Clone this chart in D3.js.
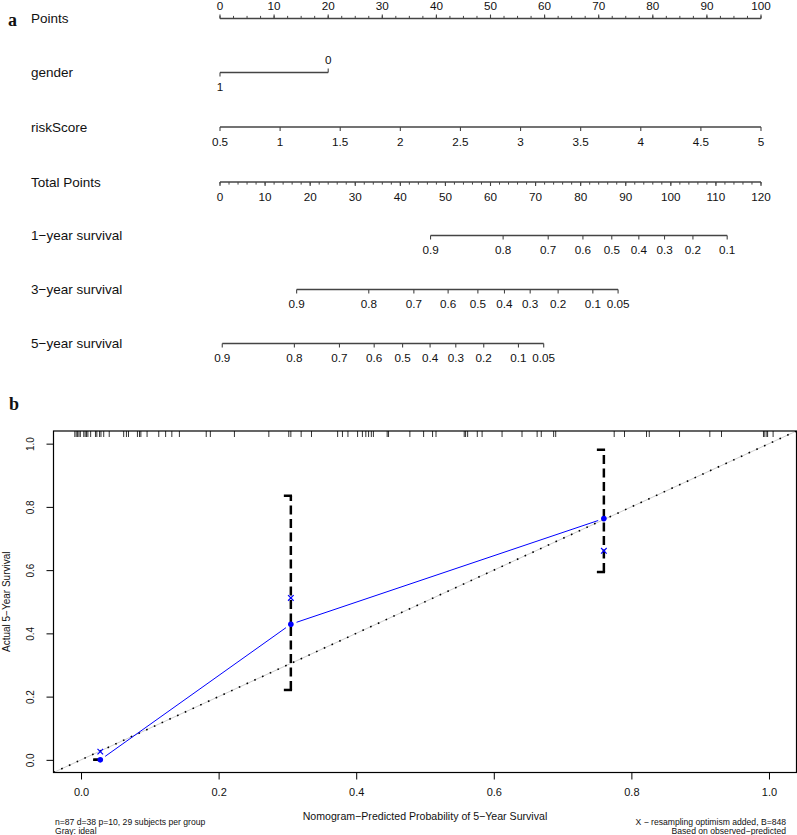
<!doctype html>
<head>
  <meta charset="utf-8">
  <title>Nomogram and calibration</title>
  <script src="https://cdn.jsdelivr.net/npm/d3@7"></script>
  <style>
    body { margin: 0; background: #fff; }
    text { font-family: "Liberation Sans", Arial, sans-serif; fill: #111; }
    .panel { font-family: "Liberation Serif", "Times New Roman", serif; font-weight: bold; font-size: 18px; }
  </style>
</head>
<body>
<script>
// ---- nomogram (a) ----
var pointsTicks = [0, 10, 20, 30, 40, 50, 60, 70, 80, 90, 100];
var genderLevels = ["1", "0"];
var genderPoints = [0, 20];
var riskTicks = [0.5, 1, 1.5, 2, 2.5, 3, 3.5, 4, 4.5, 5];
var totalTicks = [0, 10, 20, 30, 40, 50, 60, 70, 80, 90, 100, 110, 120];

var surv1Labels = ["0.9", "0.8", "0.7", "0.6", "0.5", "0.4", "0.3", "0.2", "0.1"];
var surv1Points = [46.7, 62.8, 72.8, 80.5, 86.9, 92.9, 98.6, 104.9, 112.5];
var surv3Labels = ["0.9", "0.8", "0.7", "0.6", "0.5", "0.4", "0.3", "0.2", "0.1", "0.05"];
var surv3Points = [17.0, 33.0, 43.0, 50.6, 57.2, 63.1, 68.8, 75.0, 82.7, 88.3];
var surv5Labels = ["0.9", "0.8", "0.7", "0.6", "0.5", "0.4", "0.3", "0.2", "0.1", "0.05"];
var surv5Points = [0.5, 16.5, 26.5, 34.2, 40.5, 46.6, 52.3, 58.5, 66.2, 71.8];

// ---- calibration (b) ----
var calPred = [0.028, 0.305, 0.760];
var calObs = [0.0, 0.429, 0.763];
var calCorrected = [0.026, 0.512, 0.661];
var calLower = [0.0, 0.221, 0.594];
var calUpper = [0.0, 0.835, 0.981];
var rugPred = [-0.009, -0.007, -0.005, -0.003, -0.001, 0.004, 0.006, 0.008, 0.010, 0.014,
  0.021, 0.023, 0.027, 0.029, 0.033, 0.041, 0.062, 0.066, 0.069, 0.082, 0.085, 0.087,
  0.096, 0.113, 0.123, 0.132, 0.143, 0.182, 0.188, 0.223, 0.273, 0.302, 0.305, 0.320,
  0.335, 0.373, 0.380, 0.388, 0.402, 0.409, 0.414, 0.418, 0.422, 0.425, 0.445, 0.447,
  0.478, 0.498, 0.511, 0.516, 0.557, 0.559, 0.562, 0.576, 0.583, 0.612, 0.641, 0.663,
  0.669, 0.687, 0.690, 0.775, 0.790, 0.822, 0.826, 0.870, 0.914, 0.931, 0.992, 0.994,
  0.997, 0.998, 1.006];

var W = 797, H = 835;
var svg = d3.select("body").append("svg").attr("width", W).attr("height", H);

var lineCol = "#444";
var xPts = d3.scaleLinear().domain([0, 100]).range([220, 761]);
var xTot = d3.scaleLinear().domain([0, 120]).range([220, 761]);
var xRisk = d3.scaleLinear().domain([0.5, 5]).range([220, 761]);

svg.append("text").attr("class", "panel").attr("x", 8).attr("y", 26).text("a");

// draw one nomogram row: xs pixel positions, labels, dir -1 = up, 1 = down
function row(name, yLine, xs, labels, dirs, minorXs) {
  var g = svg.append("g");
  g.append("text").attr("x", 31).attr("y", yLine + 4.5)
    .style("font-size", "13.5px").text(name);
  g.append("line")
    .attr("x1", d3.min(xs)).attr("x2", d3.max(xs))
    .attr("y1", yLine).attr("y2", yLine)
    .attr("stroke", lineCol).attr("stroke-width", 1.3);
  if (minorXs) {
    g.selectAll(".mn").data(minorXs).enter().append("line")
      .attr("x1", function(d){ return d; }).attr("x2", function(d){ return d; })
      .attr("y1", yLine).attr("y2", yLine + dirs[0] * 2.6)
      .attr("stroke", lineCol).attr("stroke-width", 1);
  }
  xs.forEach(function(x, i) {
    var dir = dirs[i % dirs.length];
    g.append("line").attr("x1", x).attr("x2", x)
      .attr("y1", yLine).attr("y2", yLine + dir * 4)
      .attr("stroke", lineCol).attr("stroke-width", 1.1);
    g.append("text").attr("x", x)
      .attr("y", dir < 0 ? yLine - 8.5 : yLine + 18.5)
      .attr("text-anchor", "middle").style("font-size", "11.7px")
      .text(labels[i]);
  });
}

row("Points", 18.5, pointsTicks.map(xPts), pointsTicks, [-1],
  d3.range(0, 100.1, 2.5).map(xPts));
row("gender", 72.5, genderPoints.map(xPts), genderLevels, [1, -1]);
row("riskScore", 127, riskTicks.map(xRisk), riskTicks, [1]);
row("Total Points", 182, totalTicks.map(xTot), totalTicks, [1],
  d3.range(0, 120.1, 2).map(xTot));
row("1\u2212year survival", 235.5, surv1Points.map(xTot), surv1Labels, [1]);
row("3\u2212year survival", 289.5, surv3Points.map(xTot), surv3Labels, [1]);
row("5\u2212year survival", 343.5, surv5Points.map(xTot), surv5Labels, [1]);

// ---- panel b ----
svg.append("text").attr("class", "panel").attr("x", 9).attr("y", 410).text("b");

var plotL = 53.5, plotR = 796.5, plotT = 431, plotB = 772.5;
var x = d3.scaleLinear().domain([-0.04, 1.04]).range([plotL, plotR]);
var y = d3.scaleLinear().domain([-0.04, 1.04]).range([plotB, plotT]);

svg.append("clipPath").attr("id", "plotclip").append("rect")
  .attr("x", plotL).attr("y", plotT).attr("width", plotR - plotL).attr("height", plotB - plotT);

var plot = svg.append("g").attr("clip-path", "url(#plotclip)");

// ideal line: gray under black dots
plot.append("line")
  .attr("x1", x(-0.04)).attr("y1", y(-0.04)).attr("x2", x(1.04)).attr("y2", y(1.04))
  .attr("stroke", "#cfcfcf").attr("stroke-width", 1);
plot.append("line")
  .attr("x1", x(-0.04)).attr("y1", y(-0.04)).attr("x2", x(1.04)).attr("y2", y(1.04))
  .attr("stroke", "#000").attr("stroke-width", 1.6)
  .attr("stroke-dasharray", "1.6,6.9");

// rug of predicted values
plot.selectAll(".rug").data(rugPred).enter().append("line")
  .attr("x1", function(d){ return x(d); }).attr("x2", function(d){ return x(d); })
  .attr("y1", plotT).attr("y2", plotT + 6)
  .attr("stroke", "#333").attr("stroke-width", 1);

// error bars
calPred.forEach(function(p, i) {
  var cx = x(p);
  if (calUpper[i] > calLower[i]) {
    plot.append("line").attr("x1", cx).attr("x2", cx)
      .attr("y1", y(calLower[i])).attr("y2", y(calUpper[i]))
      .attr("stroke", "#000").attr("stroke-width", 2.5)
      .attr("stroke-dasharray", "9,4.5");
  }
  [calLower[i], calUpper[i]].forEach(function(v) {
    plot.append("line").attr("x1", cx - 7).attr("x2", cx + 1.2)
      .attr("y1", y(v)).attr("y2", y(v))
      .attr("stroke", "#000").attr("stroke-width", 2.5);
  });
});

// observed line with gaps around points
for (var i = 0; i < calPred.length - 1; i++) {
  var x1 = x(calPred[i]), y1 = y(calObs[i]), x2 = x(calPred[i + 1]), y2 = y(calObs[i + 1]);
  var len = Math.hypot(x2 - x1, y2 - y1), ux = (x2 - x1) / len, uy = (y2 - y1) / len, gap = 6;
  plot.append("line")
    .attr("x1", x1 + ux * gap).attr("y1", y1 + uy * gap)
    .attr("x2", x2 - ux * gap).attr("y2", y2 - uy * gap)
    .attr("stroke", "#0000ff").attr("stroke-width", 1);
}
plot.selectAll(".obs").data(calPred).enter().append("circle")
  .attr("cx", function(d){ return x(d); })
  .attr("cy", function(d, i){ return y(calObs[i]); })
  .attr("r", 2.8).attr("fill", "#0000ff");

// bias-corrected x marks
calPred.forEach(function(p, i) {
  var cx = x(p), cy = y(calCorrected[i]), s = 2.8;
  plot.append("path")
    .attr("d", "M" + (cx - s) + "," + (cy - s) + "L" + (cx + s) + "," + (cy + s) +
               "M" + (cx - s) + "," + (cy + s) + "L" + (cx + s) + "," + (cy - s))
    .attr("stroke", "#0000ff").attr("stroke-width", 1.2).attr("fill", "none");
});

// box
svg.append("rect").attr("x", plotL).attr("y", plotT)
  .attr("width", plotR - plotL).attr("height", plotB - plotT)
  .attr("fill", "none").attr("stroke", "#000").attr("stroke-width", 1.2);

// axes
var ticks = [0, 0.2, 0.4, 0.6, 0.8, 1.0];
var xa = svg.append("g").attr("transform", "translate(0," + plotB + ")")
  .call(d3.axisBottom(x).tickValues(ticks).tickFormat(d3.format(".1f"))
    .tickSize(7).tickPadding(9));
xa.select(".domain").remove();
xa.selectAll("text").style("font-size", "11px").attr("fill", "#111")
  .style("font-family", "'Liberation Sans', Arial, sans-serif");

var ya = svg.append("g").attr("transform", "translate(" + plotL + ",0)")
  .call(d3.axisLeft(y).tickValues(ticks).tickFormat(d3.format(".1f")).tickSize(7));
ya.select(".domain").remove();
ya.selectAll("text").remove();
ya.selectAll(".tick").append("text")
  .attr("transform", "translate(-19.5,0) rotate(-90)")
  .attr("text-anchor", "middle").attr("fill", "#111")
  .style("font-size", "10px")
  .style("font-family", "'Liberation Sans', Arial, sans-serif")
  .text(d3.format(".1f"));

// axis titles
svg.append("text").attr("x", (plotL + plotR) / 2).attr("y", 820)
  .attr("text-anchor", "middle").style("font-size", "10.6px")
  .text("Nomogram\u2212Predicted Probability of 5\u2212Year Survival");
svg.append("text").attr("transform", "translate(10," + ((plotT + plotB) / 2) + ") rotate(-90)")
  .attr("text-anchor", "middle").style("font-size", "10px")
  .text("Actual 5\u2212Year Survival");

// footnotes
svg.append("text").attr("x", 55).attr("y", 825).style("font-size", "8.6px")
  .text("n=87 d=38 p=10, 29 subjects per group");
svg.append("text").attr("x", 55).attr("y", 833.5).style("font-size", "8.6px")
  .text("Gray: ideal");
svg.append("text").attr("x", 786).attr("y", 825).attr("text-anchor", "end").style("font-size", "8.6px")
  .text("X \u2212 resampling optimism added, B=848");
svg.append("text").attr("x", 786).attr("y", 833.5).attr("text-anchor", "end").style("font-size", "8.6px")
  .text("Based on observed\u2212predicted");
</script>
</body>
